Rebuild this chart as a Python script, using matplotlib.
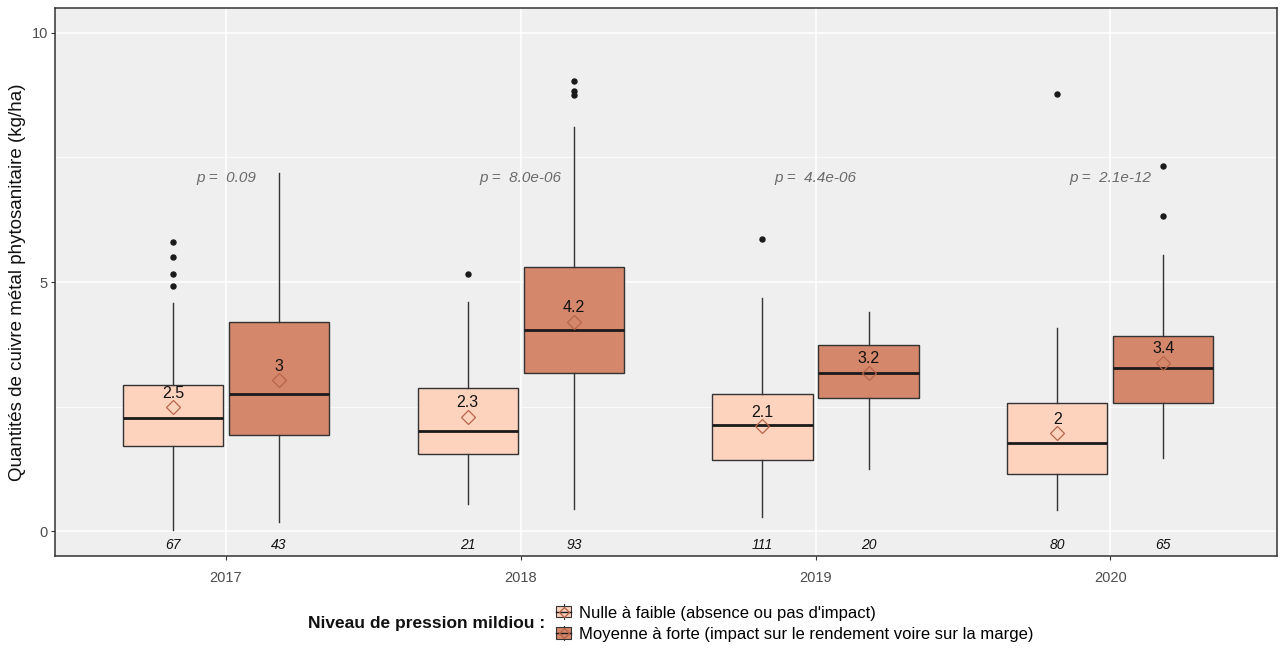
import matplotlib
matplotlib.use("Agg")
import matplotlib.pyplot as plt
from matplotlib.patches import Rectangle
from matplotlib.lines import Line2D
from matplotlib.legend_handler import HandlerBase

plt.rcParams['font.family'] = ['Liberation Sans', 'DejaVu Sans']

years = ["2017", "2018", "2019", "2020"]
groups = ["Nulle à faible (absence ou pas d'impact)",
          "Moyenne à forte (impact sur le rendement voire sur la marge)"]
colors = ["#FDD3BE", "#D4876A"]

# box statistics per group, per year
low_whislo = [0.02, 0.54, 0.29, 0.42]
low_q1 = [1.71, 1.55, 1.43, 1.14]
low_med = [2.28, 2.01, 2.13, 1.77]
low_q3 = [2.93, 2.88, 2.76, 2.58]
low_whishi = [4.57, 4.60, 4.67, 4.07]
low_fliers = [[4.92, 5.16, 5.51, 5.81], [5.16], [5.86], [8.77]]
low_mean = [2.49, 2.30, 2.10, 1.96]
low_mean_lbl = ["2.5", "2.3", "2.1", "2"]
low_n = [67, 21, 111, 80]

high_whislo = [0.19, 0.44, 1.25, 1.46]
high_q1 = [1.93, 3.18, 2.68, 2.58]
high_med = [2.76, 4.04, 3.18, 3.27]
high_q3 = [4.19, 5.31, 3.73, 3.92]
high_whishi = [7.19, 8.11, 4.39, 5.54]
high_fliers = [[], [8.76, 8.84, 9.04], [], [6.33, 7.33]]
high_mean = [3.03, 4.20, 3.18, 3.38]
high_mean_lbl = ["3", "4.2", "3.2", "3.4"]
high_n = [43, 93, 20, 65]

p_values = ["0.09", "8.0e-06", "4.4e-06", "2.1e-12"]

fig = plt.figure(figsize=(12.82, 6.5), dpi=100)
ax = fig.add_axes([0.0429, 0.1446, 0.9531, 0.8431])
ax.set_facecolor("#EFEFEF")

offset = 0.18
width = 0.34

def stats(whislo, q1, med, q3, whishi, fliers, mean):
    return [dict(whislo=a, q1=b, med=c, q3=d, whishi=e, fliers=f, mean=g)
            for a, b, c, d, e, f, g in zip(whislo, q1, med, q3, whishi, fliers, mean)]

sets = [
    (stats(low_whislo, low_q1, low_med, low_q3, low_whishi, low_fliers, low_mean), low_mean, low_mean_lbl, low_n, -offset, colors[0]),
    (stats(high_whislo, high_q1, high_med, high_q3, high_whishi, high_fliers, high_mean), high_mean, high_mean_lbl, high_n, offset, colors[1]),
]

pos_base = list(range(1, len(years) + 1))
for st, means, lbls, ns, off, col in sets:
    pos = [p + off for p in pos_base]
    ax.bxp(st, positions=pos, widths=width, patch_artist=True, showcaps=False,
           showmeans=True, manage_ticks=False,
           boxprops=dict(facecolor=col, edgecolor="#333333", linewidth=1.0),
           whiskerprops=dict(color="#333333", linewidth=1.0),
           medianprops=dict(color="#1a1a1a", linewidth=2.0),
           flierprops=dict(marker="o", markerfacecolor="#1a1a1a", markeredgecolor="#1a1a1a",
                           markersize=3.6, linestyle="none"),
           meanprops=dict(marker="D", markerfacecolor="none", markeredgecolor="#B8654A",
                          markersize=7.5, markeredgewidth=0.9),
           zorder=3)
    for x, m, l, n in zip(pos, means, lbls, ns):
        ax.text(x, m + 0.28, l, ha="center", va="center", fontsize=11.5, color="#111111", zorder=5)
        ax.text(x, -0.28, str(n), ha="center", va="center", fontsize=10, style="italic", color="#111111")

for x, p in zip(pos_base, p_values):
    ax.text(x, 7.08, "p =  " + p, ha="center", va="center", fontsize=11, style="italic", color="#6b6b6b")

ax.set_xlim(0.42, 4.565)
ax.set_ylim(-0.5, 10.5)
ax.set_xticks(pos_base)
ax.set_xticklabels(years)
ax.set_yticks([0, 5, 10])
ax.set_yticks([2.5, 7.5], minor=True)
ax.grid(which="major", color="white", linewidth=1.1, zorder=0)
ax.grid(which="minor", axis="y", color="white", linewidth=0.5, zorder=0)
ax.set_axisbelow(True)
ax.tick_params(axis="both", which="major", length=3, color="#333333", labelsize=10.5, labelcolor="#4D4D4D")
ax.tick_params(axis="x", which="major", pad=8)
ax.tick_params(axis="y", which="major", pad=2)
ax.tick_params(axis="y", which="minor", length=0)
for s in ax.spines.values():
    s.set_color("#333333")
    s.set_linewidth(1.1)
ax.set_ylabel("Quantités de cuivre métal phytosanitaire (kg/ha)", fontsize=13.5, color="#111111", labelpad=4)


class BoxHandler(HandlerBase):
    def __init__(self, color):
        super().__init__()
        self.color = color

    def create_artists(self, legend, orig_handle, xdescent, ydescent, width, height, fontsize, trans):
        cx = width / 2 - xdescent
        bw = width * 0.85
        bh = height * 0.75
        y0 = -ydescent + (height - bh) / 2
        rect = Rectangle((cx - bw / 2, y0), bw, bh, facecolor=self.color, edgecolor="#333333",
                         linewidth=0.8, transform=trans)
        wl1 = Line2D([cx, cx], [-ydescent, y0], color="#333333", linewidth=0.8, transform=trans)
        wl2 = Line2D([cx, cx], [y0 + bh, -ydescent + height], color="#333333", linewidth=0.8, transform=trans)
        med = Line2D([cx - bw / 2, cx + bw / 2], [y0 + bh / 2, y0 + bh / 2], color="#1a1a1a",
                     linewidth=1.0, transform=trans)
        dia = Line2D([cx], [y0 + bh / 2], marker="D", markersize=5, markerfacecolor="none",
                     markeredgecolor="#B8654A", linestyle="none", transform=trans)
        return [rect, wl1, wl2, med, dia]


h1 = Rectangle((0, 0), 1, 1)
h2 = Rectangle((0, 0), 1, 1)
leg = fig.legend([h1, h2], groups, loc="center left", bbox_to_anchor=(0.4305, 0.0415),
                 frameon=False, fontsize=12, handlelength=1.0, handleheight=1.0,
                 handletextpad=0.45, labelspacing=0.3, borderaxespad=0, borderpad=0.2,
                 handler_map={h1: BoxHandler(colors[0]), h2: BoxHandler(colors[1])})
fig.text(0.4255, 0.0415, "Niveau de pression mildiou :", ha="right", va="center",
         fontsize=12.5, fontweight="bold", color="#111111")

fig.savefig("out.png", dpi=100, facecolor="white")
